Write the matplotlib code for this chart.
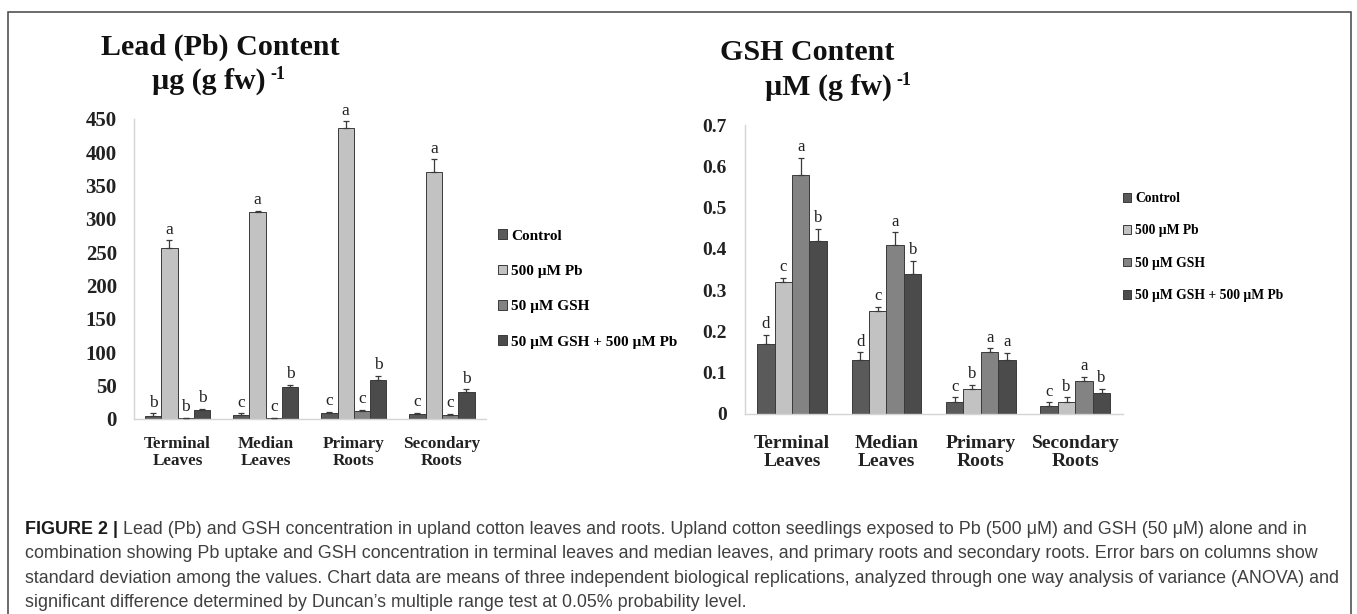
import matplotlib
matplotlib.use("Agg")
import matplotlib.pyplot as plt
import numpy as np
from matplotlib.patches import Rectangle

# categories / series
categories = ["Terminal\nLeaves", "Median\nLeaves", "Primary\nRoots", "Secondary\nRoots"]
series = ["Control", "500 µM Pb", "50 µM GSH", "50 µM GSH + 500 µM Pb"]
colors = ["#5a5a5a", "#c2c2c2", "#838383", "#4b4b4b"]

# Lead (Pb) content, µg (g fw)^-1
pb_control = [4.5, 6.5, 8.5, 7.5]
pb_pb = [256, 310, 437, 370]
pb_gsh = [1.0, 1.5, 12, 6.5]
pb_gsh_pb = [13.5, 47.5, 58.5, 40.5]
pb_err = [[4, 2, 2, 1.5], [12, 2.5, 9.5, 19.5], [0.5, 0.5, 1.5, 1], [2, 3.5, 6.5, 4]]
pb_letters = [["b", "c", "c", "c"], ["a", "a", "a", "a"], ["b", "c", "c", "c"], ["b", "b", "b", "b"]]
pb_ticks = [0, 50, 100, 150, 200, 250, 300, 350, 400, 450]

# GSH content, µM (g fw)^-1
gsh_control = [0.17, 0.13, 0.03, 0.02]
gsh_pb = [0.32, 0.25, 0.06, 0.03]
gsh_gsh = [0.58, 0.41, 0.15, 0.08]
gsh_gsh_pb = [0.42, 0.34, 0.13, 0.05]
gsh_err = [[0.021, 0.019, 0.01, 0.008], [0.01, 0.01, 0.01, 0.01],
           [0.04, 0.03, 0.009, 0.009], [0.028, 0.03, 0.018, 0.01]]
gsh_letters = [["d", "d", "c", "c"], ["c", "c", "b", "b"], ["a", "a", "a", "a"], ["b", "b", "a", "b"]]
gsh_ticks = [0, 0.1, 0.2, 0.3, 0.4, 0.5, 0.6, 0.7]
gsh_ticklabels = ["0", "0.1", "0.2", "0.3", "0.4", "0.5", "0.6", "0.7"]

caption_lines = [
    "combination showing Pb uptake and GSH concentration in terminal leaves and median leaves, "
    "and primary roots and secondary roots. Error bars on columns show",
    "standard deviation among the values. Chart data are means of three independent biological "
    "replications, analyzed through one way analysis of variance (ANOVA) and",
    "significant difference determined by Duncan\u2019s multiple range test at 0.05% probability level.",
]
caption_first = (" Lead (Pb) and GSH concentration in upland cotton leaves and roots. Upland cotton "
                 "seedlings exposed to Pb (500 \u03bcM) and GSH (50 \u03bcM) alone and in")

W, H = 1357, 614
SERIF = "Liberation Serif"
SANS = "Liberation Sans"

fig = plt.figure(figsize=(W / 100, H / 100), dpi=100)


def fx(px):
    return px / W


def fy(py):
    return 1 - py / H


def draw_chart(ax, data, errs, letters, ticks, ticklabels, ylim, tick_fs, cat_fs, tick_pad, cat_pad, let_fs):
    x = np.arange(len(categories))
    w = 0.185
    handles = []
    for i, (vals, err) in enumerate(zip(data, errs)):
        pos = x + (i - 1.5) * w
        b = ax.bar(pos, vals, w, color=colors[i], edgecolor="#3a3a3a", linewidth=0.7,
                   label=series[i], zorder=2)
        ax.errorbar(pos, vals, yerr=[np.zeros(len(vals)), err], fmt="none",
                    ecolor="#3a3a3a", elinewidth=0.9, capsize=2.5, capthick=0.9, zorder=3)
        for p, v, e, l in zip(pos, vals, err, letters[i]):
            ax.annotate(l, (p, v + e), xytext=(0, 2), textcoords="offset points",
                        ha="center", va="bottom", fontsize=let_fs, family=SERIF, color="#222222")
        handles.append(b)
    ax.set_xlim(-0.5, 3.5)
    ax.set_ylim(*ylim)
    ax.set_yticks(ticks)
    ax.set_yticklabels(ticklabels, fontsize=tick_fs, family=SERIF, fontweight="bold")
    ax.set_xticks(x)
    ax.set_xticklabels(categories, fontsize=cat_fs, family=SERIF, fontweight="bold",
                       linespacing=1.1, color="#222222")
    ax.tick_params(axis="y", length=0, pad=tick_pad, colors="#222222")
    ax.tick_params(axis="x", length=0, pad=cat_pad)
    for s in ["top", "right"]:
        ax.spines[s].set_visible(False)
    for s in ["left", "bottom"]:
        ax.spines[s].set_color("#d4d4d4")
        ax.spines[s].set_linewidth(1.0)
    return handles


# left chart: Pb content
ax1 = fig.add_axes([fx(133.5), fy(419), fx(486 - 133.5), (419 - 119) / H])
h1 = draw_chart(ax1, [pb_control, pb_pb, pb_gsh, pb_gsh_pb], pb_err, pb_letters,
                pb_ticks, [str(t) for t in pb_ticks], (0, 450), 15, 12.3, 12, 12, 12.5)
fig.legend(h1, series, loc="center left", bbox_to_anchor=(fx(490), fy(289)), frameon=False,
           handlelength=0.6, handleheight=0.6, handletextpad=0.3, labelspacing=1.45, borderpad=0,
           prop={"family": SERIF, "weight": "bold", "size": 11})

# right chart: GSH content
ax2 = fig.add_axes([fx(744.8), fy(414), fx(1122.6 - 744.8), (414 - 125) / H])
h2 = draw_chart(ax2, [gsh_control, gsh_pb, gsh_gsh, gsh_gsh_pb], gsh_err, gsh_letters,
                gsh_ticks, gsh_ticklabels, (0, 0.7), 14, 14, 13, 15, 12)
fig.legend(h2, series, loc="center left", bbox_to_anchor=(fx(1116), fy(247)), frameon=False,
           handlelength=0.6, handleheight=0.6, handletextpad=0.3, labelspacing=1.42, borderpad=0,
           prop={"family": SERIF, "weight": "bold", "size": 9.8})

# titles
tkw = dict(family=SERIF, fontweight="bold", color="#111111", va="baseline")
fig.text(fx(101), fy(55), "Lead (Pb) Content", ha="left", fontsize=21.6, **tkw)
fig.text(fx(266), fy(89), "µg (g fw)", ha="right", fontsize=21.6, **tkw)
fig.text(fx(270), fy(79), "-1", ha="left", fontsize=13, **tkw)
fig.text(fx(720), fy(60), "GSH Content", ha="left", fontsize=21.6, **tkw)
fig.text(fx(892), fy(95), "µM (g fw)", ha="right", fontsize=21.6, **tkw)
fig.text(fx(896), fy(85), "-1", ha="left", fontsize=13, **tkw)

# frame
fig.patches.append(Rectangle((fx(7.5), fy(620)), fx(1351 - 7.5), (620 - 12) / H,
                             transform=fig.transFigure, fill=False, edgecolor="#444444",
                             linewidth=1.1, zorder=0))

# caption
ckw = dict(family=SANS, fontsize=12.9, va="baseline", ha="left")
t0 = fig.text(fx(25), fy(534), "FIGURE 2 |", fontweight="bold", color="#1a1a1a", **ckw)
fig.canvas.draw()
bb = t0.get_window_extent(fig.canvas.get_renderer())
fig.text(bb.x1 / W, fy(534), caption_first, color="#404040", **ckw)
for k, line in enumerate(caption_lines):
    fig.text(fx(25), fy(534 + 24.3 * (k + 1)), line, color="#404040", **ckw)

fig.savefig("out.png", dpi=100)
